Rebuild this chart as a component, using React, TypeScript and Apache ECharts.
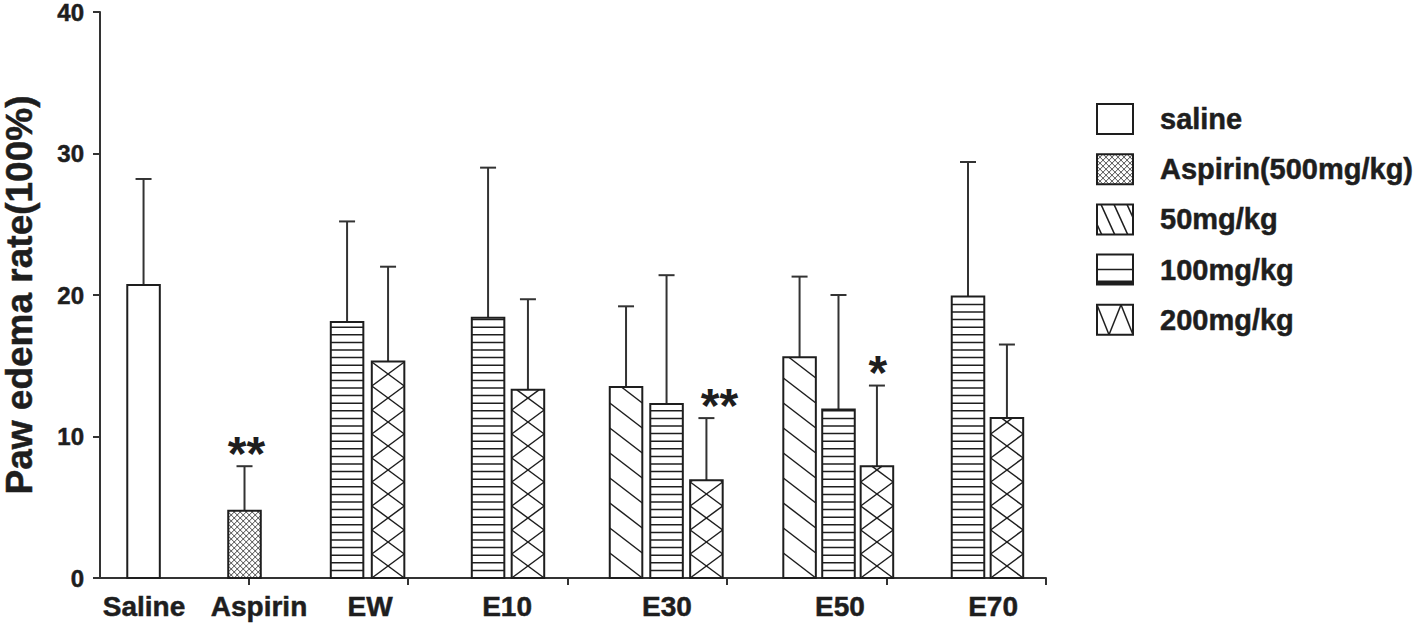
import React, { useEffect, useRef } from "react";
import * as echarts from "echarts";

// ---------------- data ----------------
const CATEGORIES = ["Saline", "Aspirin", "EW", "E10", "E30", "E50", "E70"];
const LEGEND_NAMES = ["saline", "Aspirin(500mg/kg)", "50mg/kg", "100mg/kg", "200mg/kg"];

const salineGroups = ["Saline"];
const salineMean = [20.7];
const salineSD = [7.5];

const aspirinGroups = ["Aspirin"];
const aspirinMean = [4.75];
const aspirinSD = [3.15];
const aspirinSig = ["**"];

const dose50Groups = ["E30", "E50"];
const dose50Mean = [13.5, 15.6];
const dose50SD = [5.7, 5.7];

const dose100Groups = ["EW", "E10", "E30", "E50", "E70"];
const dose100Mean = [18.1, 18.4, 12.3, 11.9, 19.9];
const dose100SD = [7.1, 10.6, 9.1, 8.1, 9.5];

const dose200Groups = ["EW", "E10", "E30", "E50", "E70"];
const dose200Mean = [15.3, 13.3, 6.9, 7.9, 11.3];
const dose200SD = [6.7, 6.4, 4.4, 5.7, 5.2];
const dose200Sig = ["", "", "**", "*", ""];

const Y_MAX = 40;

// ---------------- layout (axis units, not data) ----------------
const X_MIN = 0.069;
const X_MAX = 6;
const X_TICKS = [1, 2, 3, 4, 5, 6];
const LABEL_POS = [0.345, 1.066, 1.762, 2.621, 3.624, 4.708, 5.668];
const SLOT_SALINE = [0.342];
const SLOT_ASPIRIN = [0.975];
const SLOT_50 = [3.367, 4.455];
const SLOT_100 = [1.618, 2.502, 3.621, 4.699, 5.511];
const SLOT_200 = [1.875, 2.752, 3.871, 4.94, 5.755];
const SIG_SHIFT_200 = [0, 0, 13, 1, 0];
const SIG_SHIFT_ASP = [2];
const BAR_W = 0.204;

const FONT = '"Liberation Sans", Arial, Helvetica, sans-serif';
const INK = "#1e1e1e";

type Seg = [number, number, number, number];

function hatch(x0: number, y0: number, x1: number, y1: number, s: number, P: number, ax: number, ay: number): Seg[] {
  const segs: Seg[] = [];
  const c0 = ay - s * ax;
  const cs = [y0 - s * x0, y0 - s * x1, y1 - s * x0, y1 - s * x1];
  const cmin = Math.min(...cs), cmax = Math.max(...cs);
  const kmin = Math.ceil((cmin - c0) / P);
  const kmax = Math.floor((cmax - c0) / P);
  for (let k = kmin; k <= kmax; k++) {
    const c = c0 + k * P;
    if (s === 0) {
      if (c > y0 + 0.5 && c < y1 - 0.5) segs.push([x0, c, x1, c]);
      continue;
    }
    const xa0 = (y0 - c) / s, xa1 = (y1 - c) / s;
    const xa = Math.max(x0, Math.min(xa0, xa1));
    const xb = Math.min(x1, Math.max(xa0, xa1));
    if (xb - xa > 0.4) segs.push([xa, c + s * xa, xb, c + s * xb]);
  }
  return segs;
}

function patternSegs(kind: string, x0: number, y0: number, x1: number, y1: number): Seg[] {
  const w = x1 - x0;
  if (kind === "aspirin") {
    const P = 6;
    return [...hatch(x0, y0, x1, y1, 1, P, x0, y1), ...hatch(x0, y0, x1, y1, -1, P, x0, y1)];
  }
  if (kind === "d50") {
    const P = 25;
    return hatch(x0, y0, x1, y1, P / w, P, x0, y1);
  }
  if (kind === "d100") {
    return hatch(x0, y0, x1, y1, 0, 7.6, x0, y1);
  }
  if (kind === "d200") {
    const P = 24;
    return [...hatch(x0, y0, x1, y1, P / w, P, x0, y1), ...hatch(x0, y0, x1, y1, -P / w, P, x0, y1)];
  }
  return [];
}

function segEls(segs: Seg[], lw: number) {
  return segs.map((g) => ({
    type: "line",
    shape: { x1: g[0], y1: g[1], x2: g[2], y2: g[3] },
    style: { stroke: INK, lineWidth: lw },
  }));
}

function makeRender(kind: string, sig: string[], sigShift: number[]) {
  return (params: any, api: any) => {
    const i = params.dataIndex;
    const x = api.value(0);
    const m = api.value(1);
    const sd = api.value(2);
    const base = api.coord([x, 0]);
    const top = api.coord([x, m]);
    const err = api.coord([x, m + sd]);
    const w = api.size([BAR_W, 0])[0];
    const cx = base[0];
    const x0 = cx - w / 2, x1 = cx + w / 2, yt = top[1], yb = base[1];
    const children: any[] = [];
    children.push({ type: "line", shape: { x1: cx, y1: yt, x2: cx, y2: err[1] }, style: { stroke: "#333", lineWidth: 2 } });
    children.push({ type: "line", shape: { x1: cx - 8, y1: err[1], x2: cx + 8, y2: err[1] }, style: { stroke: "#333", lineWidth: 2 } });
    children.push({ type: "rect", shape: { x: x0, y: yt, width: w, height: yb - yt }, style: { fill: "#fff", stroke: null } });
    children.push(...segEls(patternSegs(kind, x0, yt, x1, yb), kind === "aspirin" ? 0.8 : 1.5));
    children.push({ type: "rect", shape: { x: x0, y: yt, width: w, height: yb - yt }, style: { fill: "none", stroke: INK, lineWidth: 2 } });
    const t = sig[i];
    if (t) {
      children.push({
        type: "text",
        style: {
          text: t,
          x: cx + (sigShift[i] || 0),
          y: err[1] - 13,
          fill: INK,
          fontSize: 48,
          fontWeight: "bold",
          fontFamily: FONT,
          align: "center",
          verticalAlign: "middle",
        },
      });
    }
    return { type: "group", children };
  };
}

function buildSeries(name: string, kind: string, slots: number[], mean: number[], sd: number[], sig: string[], shift: number[]) {
  return {
    type: "custom",
    name,
    clip: false,
    encode: { x: 0, y: 1 },
    data: slots.map((s, i) => [s, mean[i], sd[i]]),
    renderItem: makeRender(kind, sig, shift),
  };
}

function legendElements() {
  const kinds = ["saline", "aspirin", "d50legend", "d100legend", "d200legend"];
  const bx = 1097, bw = 36, bh = 30;
  const els: any[] = [];
  LEGEND_NAMES.forEach((name, i) => {
    const cy = 119 + 50.2 * i;
    const y0 = cy - bh / 2, y1 = cy + bh / 2, x0 = bx, x1 = bx + bw;
    els.push({ type: "rect", shape: { x: x0, y: y0, width: bw, height: bh }, style: { fill: "#fff", stroke: null } });
    const k = kinds[i];
    let segs: Seg[] = [];
    if (k === "aspirin") segs = patternSegs("aspirin", x0, y0, x1, y1);
    if (k === "d50legend") segs = hatch(x0, y0, x1, y1, 2.2, 28.6, x0 + 4, y0);
    if (k === "d200legend") segs = [...hatch(x0, y0, x1, y1, 2.5, 60, x0, y0), ...hatch(x0, y0, x1, y1, -2.5, 60, x0, y0)];
    if (k === "d100legend") {
      segs = [[x0, cy, x1, cy]];
      els.push({ type: "line", shape: { x1: x0, y1: y1 - 2, x2: x1, y2: y1 - 2 }, style: { stroke: INK, lineWidth: 4 } });
    }
    segs.forEach((g) =>
      els.push({ type: "line", shape: { x1: g[0], y1: g[1], x2: g[2], y2: g[3] }, style: { stroke: INK, lineWidth: k === "aspirin" ? 0.8 : 1.5 } })
    );
    els.push({ type: "rect", shape: { x: x0, y: y0, width: bw, height: bh }, style: { fill: "none", stroke: INK, lineWidth: 2 } });
    els.push({
      type: "text",
      x: 1160,
      y: cy,
      style: {
        text: name,
        x: 0,
        y: 0,
        fill: INK,
        fontSize: 29,
        fontWeight: "bold",
        fontFamily: FONT,
        align: "left",
        verticalAlign: "middle",
        textAlign: "left",
        textVerticalAlign: "middle",
        stroke: INK,
        lineWidth: 0.5,
      },
    });
  });
  return els;
}

export default function App() {
  const ref = useRef<HTMLDivElement>(null);
  useEffect(() => {
    if (!ref.current) return;
    const chart = echarts.init(ref.current, undefined, { renderer: "svg" });
    const axisLineStyle = { color: "#333", width: 2 };
    const option: any = {
      animation: false,
      backgroundColor: "#fff",
      grid: { left: 100, right: 369, top: 12, bottom: 46, containLabel: false, outerBoundsMode: "none" },
      xAxis: {
        type: "value",
        min: X_MIN,
        max: X_MAX,
        splitLine: { show: false },
        axisLine: { show: true, onZero: false, lineStyle: axisLineStyle },
        axisTick: { show: true, customValues: X_TICKS, length: 7, lineStyle: axisLineStyle },
        axisLabel: {
          customValues: LABEL_POS,
          formatter: (v: number) => {
            let best = 0;
            LABEL_POS.forEach((p, i) => {
              if (Math.abs(p - v) < Math.abs(LABEL_POS[best] - v)) best = i;
            });
            return CATEGORIES[best];
          },
          margin: 14,
          fontSize: 28,
          fontWeight: "bold",
          fontFamily: FONT,
          color: INK,
          textBorderColor: INK,
          textBorderWidth: 0.5,
        },
      },
      yAxis: {
        type: "value",
        min: 0,
        max: Y_MAX,
        interval: 10,
        splitLine: { show: false },
        axisLine: { show: true, lineStyle: axisLineStyle },
        axisTick: { show: true, length: 7, lineStyle: axisLineStyle },
        axisLabel: {
          margin: 16,
          fontSize: 24,
          lineHeight: 18,
          fontWeight: "bold",
          fontFamily: FONT,
          color: INK,
          textBorderColor: INK,
          textBorderWidth: 0.5,
        },
        name: "Paw edema rate(100%)",
        nameLocation: "middle",
        nameRotate: 90,
        nameGap: 63,
        nameTextStyle: {
          fontSize: 37,
          lineHeight: 36,
          fontWeight: "bold",
          fontFamily: FONT,
          color: INK,
          textBorderColor: INK,
          textBorderWidth: 0.5,
        },
      },
      series: [
        buildSeries("saline", "saline", SLOT_SALINE, salineMean, salineSD, [], []),
        buildSeries("Aspirin(500mg/kg)", "aspirin", SLOT_ASPIRIN, aspirinMean, aspirinSD, aspirinSig, SIG_SHIFT_ASP),
        buildSeries("50mg/kg", "d50", SLOT_50, dose50Mean, dose50SD, [], []),
        buildSeries("100mg/kg", "d100", SLOT_100, dose100Mean, dose100SD, [], []),
        buildSeries("200mg/kg", "d200", SLOT_200, dose200Mean, dose200SD, dose200Sig, SIG_SHIFT_200),
      ],
      graphic: { elements: legendElements() },
    };
    chart.setOption(option);
    return () => chart.dispose();
  }, []);
  return <div ref={ref} style={{ position: "fixed", left: 0, top: 0, width: 1415, height: 624 }} />;
}
